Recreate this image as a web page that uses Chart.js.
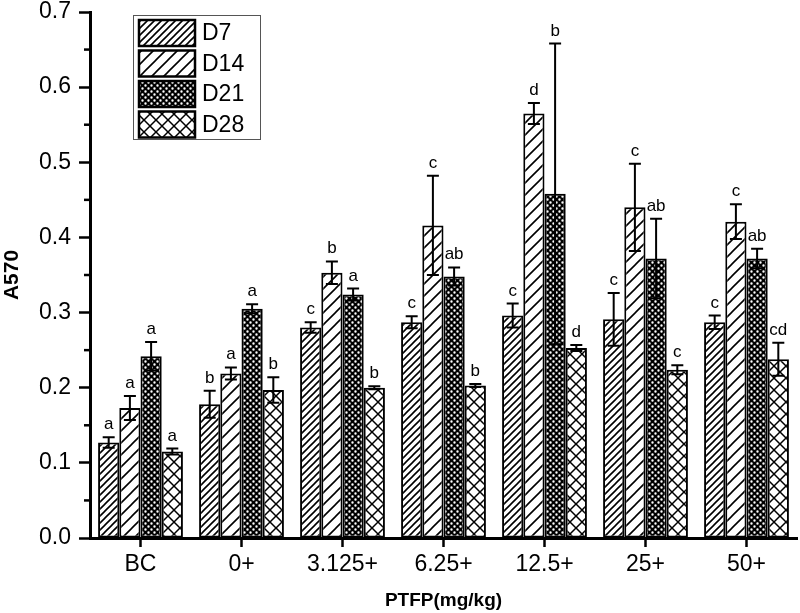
<!DOCTYPE html>
<html>
<head>
<meta charset="utf-8">
<script src="https://cdn.jsdelivr.net/npm/chart.js@4"></script>
<style>
  body { margin: 0; background: #fff; }
  #wrap { width: 800px; height: 613px; }
</style>
</head>
<body>
<div id="wrap"><canvas id="myChart" width="800" height="613"></canvas></div>
<script>
const ctx = document.querySelector("#myChart");

const categorias = ['BC', '0+', '3.125+', '6.25+', '12.5+', '25+', '50+'];
const series = ['D7', 'D14', 'D21', 'D28'];

// mean A570
const d7 = [0.127, 0.178, 0.280, 0.287, 0.296, 0.291, 0.287];
const d14 = [0.173, 0.219, 0.353, 0.416, 0.565, 0.440, 0.421];
const d21 = [0.242, 0.305, 0.324, 0.348, 0.458, 0.372, 0.372];
const d28 = [0.115, 0.197, 0.200, 0.203, 0.253, 0.224, 0.238];

// error bars (+/-)
const e7 = [0.007, 0.018, 0.007, 0.008, 0.016, 0.035, 0.009];
const e14 = [0.016, 0.008, 0.015, 0.066, 0.014, 0.058, 0.023];
const e21 = [0.019, 0.006, 0.008, 0.012, 0.200, 0.053, 0.013];
const e28 = [0.004, 0.017, 0.002, 0.002, 0.004, 0.006, 0.022];

// significance letters
const l7 = ['a', 'b', 'c', 'c', 'c', 'c', 'c'];
const l14 = ['a', 'a', 'b', 'c', 'd', 'c', 'c'];
const l21 = ['a', 'a', 'a', 'ab', 'b', 'ab', 'ab'];
const l28 = ['a', 'b', 'b', 'b', 'd', 'c', 'cd'];

const yTicks = [0, 0.1, 0.2, 0.3, 0.4, 0.5, 0.6, 0.7];

const FONT = "'Liberation Sans', Arial, sans-serif";

// hatch patterns
const makePattern = (size, draw) => {
    const c = document.createElement('canvas');
    c.width = size;
    c.height = size;
    const g = c.getContext('2d');
    g.fillStyle = '#fff';
    g.fillRect(0, 0, size, size);
    g.strokeStyle = '#000';
    g.fillStyle = '#000';
    draw(g, size);
    return g.createPattern(c, 'repeat');
};

const diag = (g, s, w) => {
    g.lineWidth = w;
    g.beginPath();
    g.moveTo(-1, s + 1); g.lineTo(s + 1, -1);
    g.moveTo(-1, 1); g.lineTo(1, -1);
    g.moveTo(s - 1, s + 1); g.lineTo(s + 1, s - 1);
    g.stroke();
};

const patD7 = makePattern(7, (g, s) => diag(g, s, 1.6));
const patD14 = makePattern(12, (g, s) => diag(g, s, 1.6));
const patD21 = makePattern(6, (g, s) => {
    g.fillRect(0, 0, s, s);
    g.fillStyle = '#fff';
    g.beginPath();
    g.arc(1.5, 1.5, 1.2, 0, Math.PI * 2);
    g.arc(4.5, 4.5, 1.2, 0, Math.PI * 2);
    g.fill();
});
const patD28 = makePattern(12, (g, s) => {
    g.lineWidth = 1.5;
    g.beginPath();
    g.moveTo(0, s); g.lineTo(s, 0);
    g.moveTo(0, 0); g.lineTo(s, s);
    g.stroke();
});

const valores = [d7, d14, d21, d28];
const errores = [e7, e14, e21, e28];
const letras = [l7, l14, l21, l28];
const patrones = [patD7, patD14, patD21, patD28];

const errorBars = {
    id: 'errorBars',
    afterDatasetsDraw(chart) {
        const g = chart.ctx;
        const y = chart.scales.y;
        g.save();
        g.strokeStyle = '#000';
        g.fillStyle = '#000';
        g.lineWidth = 2;
        g.font = '17px ' + FONT;
        g.textAlign = 'center';
        g.textBaseline = 'alphabetic';
        chart.data.datasets.forEach((ds, i) => {
            const meta = chart.getDatasetMeta(i);
            meta.data.forEach((bar, j) => {
                const v = ds.data[j];
                const e = errores[i][j];
                const top = y.getPixelForValue(v + e);
                const bot = y.getPixelForValue(v - e);
                g.beginPath();
                g.moveTo(bar.x, top); g.lineTo(bar.x, bot);
                g.moveTo(bar.x - 6, top); g.lineTo(bar.x + 6, top);
                g.moveTo(bar.x - 6, bot); g.lineTo(bar.x + 6, bot);
                g.stroke();
                g.fillText(letras[i][j], bar.x, top - 8);
            });
        });
        g.restore();
    }
};

// minor ticks at 0.05 + custom legend box
const extras = {
    id: 'extras',
    afterDraw(chart) {
        const g = chart.ctx;
        const y = chart.scales.y;
        const left = chart.chartArea.left;
        g.save();
        g.strokeStyle = '#000';
        g.lineWidth = 2.5;
        for (let k = 0; k < yTicks.length - 1; k++) {
            const py = y.getPixelForValue((yTicks[k] + yTicks[k + 1]) / 2);
            g.beginPath();
            g.moveTo(left - 6, py); g.lineTo(left, py);
            g.stroke();
        }
        // legend
        g.lineWidth = 1;
        g.strokeStyle = '#555';
        g.strokeRect(133.5, 15.5, 127, 124);
        g.font = '23px ' + FONT;
        g.textBaseline = 'middle';
        g.textAlign = 'left';
        g.fillStyle = '#000';
        chart.data.datasets.forEach((ds, i) => {
            const top = 20 + i * 30.5;
            g.fillStyle = ds.backgroundColor;
            g.fillRect(139, top, 56, 26);
            g.lineWidth = 2.5;
            g.strokeStyle = '#000';
            g.strokeRect(139, top, 56, 26);
            g.fillStyle = '#000';
            g.fillText(ds.label, 202, top + 14);
        });
        g.restore();
    }
};

const myChart = new Chart(ctx, {
    type: 'bar',
    data: {
        labels: categorias,
        datasets: series.map((s, i) => ({
            label: s,
            data: valores[i],
            backgroundColor: patrones[i],
            borderColor: '#000',
            borderWidth: 2,
            borderSkipped: false,
            categoryPercentage: 0.84,
            barPercentage: 1.0
        }))
    },
    options: {
        responsive: false,
        animation: false,
        layout: { padding: { top: 12, right: 3, left: 0, bottom: 0 } },
        plugins: {
            legend: { display: false },
            tooltip: { enabled: false }
        },
        scales: {
            x: {
                afterFit: (scale) => { scale.height = 75; },
                grid: {
                    offset: false,
                    drawOnChartArea: false,
                    tickLength: 9,
                    tickWidth: 2.5,
                    tickColor: '#000'
                },
                border: { color: '#000', width: 3 },
                ticks: { color: '#000', font: { family: FONT, size: 23 }, padding: 4 },
                title: {
                    display: true,
                    text: 'PTFP(mg/kg)',
                    color: '#000',
                    font: { family: FONT, size: 19, weight: 'bold' },
                    padding: { top: 0, bottom: 1 }
                }
            },
            y: {
                min: 0,
                max: 0.7,
                afterFit: (scale) => {
                    scale.width = 90;
                    scale.paddingTop = 0;
                    scale.paddingBottom = 0;
                },
                afterBuildTicks: (scale) => { scale.ticks = yTicks.map(v => ({ value: v })); },
                grid: {
                    drawOnChartArea: false,
                    tickLength: 11,
                    tickWidth: 2.5,
                    tickColor: '#000'
                },
                border: { color: '#000', width: 3 },
                ticks: {
                    color: '#000',
                    font: { family: FONT, size: 23 },
                    padding: 8,
                    callback: (v) => Number(v).toFixed(1)
                },
                title: {
                    display: true,
                    text: 'A570',
                    color: '#000',
                    font: { family: FONT, size: 21, weight: 'bold' },
                    padding: { top: 0, bottom: 0 }
                }
            }
        }
    },
    plugins: [errorBars, extras]
});
</script>
</body>
</html>
